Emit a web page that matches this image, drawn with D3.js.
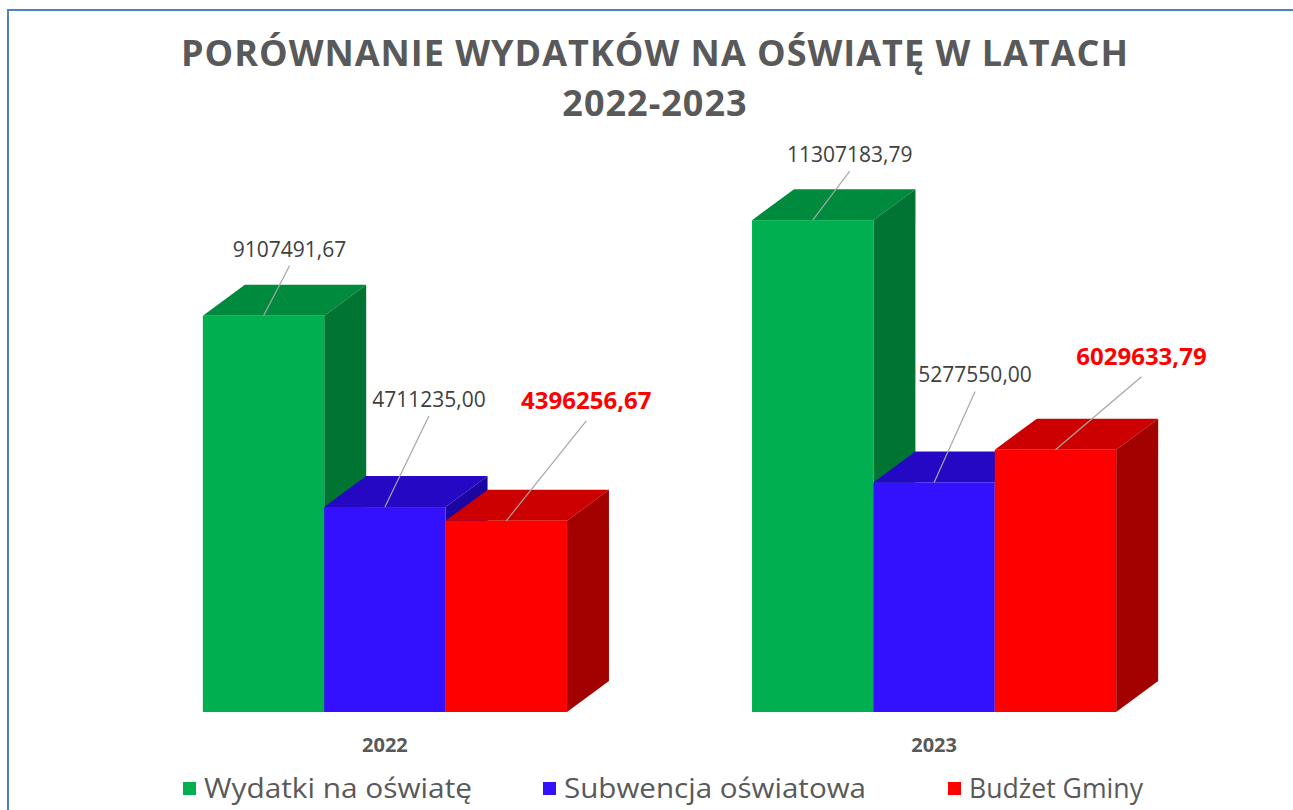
<!DOCTYPE html>
<html>
<head>
<meta charset="utf-8">
<script src="https://cdn.jsdelivr.net/npm/d3@7"></script>
<style>
  body { margin: 0; background: #fff; }
  svg { display: block; }
</style>
</head>
<body>
<script>
var categories = ['2022', '2023'];
var seriesNames = ['Wydatki na oświatę', 'Subwencja oświatowa', 'Budżet Gminy'];
var wydatki = [9107491.67, 11307183.79];
var subwencja = [4711235.00, 5277550.00];
var budzet = [4396256.67, 6029633.79];

var w = 1293;
var h = 810;
var depthX = 42;
var depthY = 31;

// front / top / side colours per series
var colors = [
  { front: '#00b050', top: '#008a3e', side: '#007433' },
  { front: '#3311ff', top: '#2408c4', side: '#1c05a0' },
  { front: '#ff0000', top: '#cc0000', side: '#a30000' }
];

// where each data label sits relative to its bar (dx, dy above top)
var labelOffsets = [
  [[26, 59], [37, 58]],
  [[44, 100], [41, 100]],
  [[80, 112], [86, 85]]
];

var table = [];
categories.forEach(function (c, i) {
  [wydatki, subwencja, budzet].forEach(function (arr, s) {
    table.push({ cat: c, ci: i, s: s, name: seriesNames[s], value: arr[i] });
  });
});

var svg = d3.select('body').append('svg')
  .attr('width', w)
  .attr('height', h);

// frame
svg.append('rect')
  .attr('x', 8).attr('y', 10)
  .attr('width', w + 20).attr('height', h + 20)
  .attr('fill', 'none')
  .attr('stroke', '#4f81c7')
  .attr('stroke-width', 2);

// title, two lines
svg.selectAll('.title')
  .data(['PORÓWNANIE WYDATKÓW NA OŚWIATĘ W LATACH', '2022-2023'])
  .enter().append('text')
  .attr('class', 'title')
  .attr('x', 655)
  .attr('y', (d, i) => 66 + i * 50)
  .attr('text-anchor', 'middle')
  .attr('font-family', 'Open Sans')
  .attr('font-weight', 'bold')
  .attr('font-size', 36)
  .attr('letter-spacing', 1)
  .attr('fill', '#595959')
  .text(d => d);

var x0 = d3.scaleBand()
  .domain(categories)
  .range([93, 1226])
  .paddingInner(0.337)
  .paddingOuter(0.2);

var x1 = d3.scaleBand()
  .domain(d3.range(seriesNames.length))
  .range([0, x0.bandwidth()]);

var y = d3.scaleLinear()
  .domain([0, 12000000])
  .range([712, 190]);

var bars = svg.append('g').attr('class', 'bars');

table.forEach(function (d) {
  var xl = x0(d.cat) + x1(d.s);
  var xr = xl + x1.bandwidth();
  var yt = y(d.value);
  var yb = y(0);
  var g = bars.append('g');
  g.append('path')
    .attr('d', 'M' + xl + ',' + yt + 'L' + xr + ',' + yt + 'L' + (xr + depthX) + ',' + (yt - depthY) +
      'L' + (xl + depthX) + ',' + (yt - depthY) + 'Z')
    .attr('fill', colors[d.s].top);
  g.append('path')
    .attr('d', 'M' + xr + ',' + yt + 'L' + (xr + depthX) + ',' + (yt - depthY) + 'L' + (xr + depthX) + ',' + (yb - depthY) +
      'L' + xr + ',' + yb + 'Z')
    .attr('fill', colors[d.s].side);
  g.append('rect')
    .attr('x', xl).attr('y', yt)
    .attr('width', x1.bandwidth()).attr('height', yb - yt)
    .attr('fill', colors[d.s].front);
});

// data labels with leader lines
function fmt(v) {
  return v.toFixed(2).replace('.', ',');
}

table.forEach(function (d) {
  var cx = x0(d.cat) + x1(d.s) + x1.bandwidth() / 2;
  var yt = y(d.value);
  var off = labelOffsets[d.s][d.ci];
  var lx = cx + off[0];
  var ly = yt - off[1];
  var red = d.s === 2;
  svg.append('line')
    .attr('x1', lx).attr('y1', ly + (red ? 12 : 9))
    .attr('x2', cx).attr('y2', yt)
    .attr('stroke', '#a6a6a6')
    .attr('stroke-width', 1.2);
  svg.append('text')
    .attr('x', lx).attr('y', ly)
    .attr('text-anchor', 'middle')
    .attr('font-family', 'Open Sans')
    .attr('font-weight', red ? 'bold' : 'normal')
    .attr('font-size', red ? 24 : 21)
    .attr('fill', red ? '#ff0000' : '#404040')
    .text(fmt(d.value));
});

// category axis labels
svg.selectAll('.cat')
  .data(categories)
  .enter().append('text')
  .attr('class', 'cat')
  .attr('x', d => x0(d) + x0.bandwidth() / 2)
  .attr('y', 752)
  .attr('text-anchor', 'middle')
  .attr('font-family', 'Open Sans')
  .attr('font-weight', 'bold')
  .attr('font-size', 20)
  .attr('fill', '#595959')
  .text(d => d);

// legend
var legendX = [183, 543, 948];
var legendTextW = [268, 302, 174];
var legend = svg.selectAll('.legend')
  .data(seriesNames)
  .enter().append('g')
  .attr('class', 'legend')
  .attr('transform', (d, i) => 'translate(' + legendX[i] + ',0)');

legend.append('rect')
  .attr('x', 0).attr('y', 782)
  .attr('width', 13).attr('height', 13)
  .attr('fill', (d, i) => colors[i].front);

legend.append('text')
  .attr('x', 21).attr('y', 798)
  .attr('font-family', 'Open Sans')
  .attr('font-size', 28)
  .attr('fill', '#595959')
  .attr('textLength', (d, i) => legendTextW[i])
  .attr('lengthAdjust', 'spacingAndGlyphs')
  .text(d => d);
</script>
</body>
</html>
